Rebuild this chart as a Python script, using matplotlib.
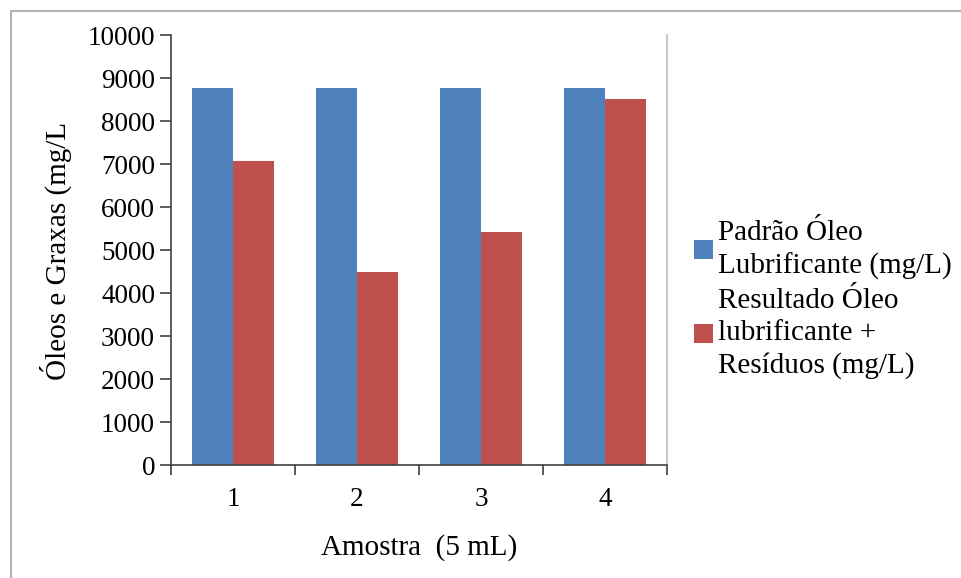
import matplotlib.pyplot as plt
from matplotlib.patches import Rectangle
import numpy as np

plt.rcParams['font.family'] = ['Liberation Serif', 'DejaVu Serif']

# data
amostras = ['1', '2', '3', '4']
padrao = [8780, 8780, 8780, 8780]
resultado = [7080, 4500, 5430, 8530]
serie_labels = ['Padrão Óleo\nLubrificante (mg/L)',
                'Resultado Óleo\nlubrificante +\nResíduos (mg/L)']
y_ticks = list(range(0, 10001, 1000))

W, H = 962, 578
fig = plt.figure(figsize=(W / 100, H / 100), dpi=100)
ax = fig.add_axes([171 / W, 1 - 465.3 / H, (667 - 171) / W, (465.3 - 35.3) / H])

x = np.arange(len(amostras))
w = 1 / 3
ax.bar(x - w / 2, padrao, w, color='#4F81BD', linewidth=0, label=serie_labels[0])
ax.bar(x + w / 2, resultado, w, color='#C0504D', linewidth=0, label=serie_labels[1])

ax.set_xlim(-0.5, len(amostras) - 0.5)
ax.set_ylim(0, 10000)

# category labels without marks, marks between categories
ax.set_xticks(x, amostras)
ax.tick_params(axis='x', which='major', length=0, pad=15.5, labelsize=19.5)
ax.set_xticks(np.arange(-0.5, len(amostras), 1), minor=True)
ax.tick_params(axis='x', which='minor', length=7.5, width=1.2, color='#404040',
               direction='out')
ax.set_yticks(y_ticks)
ax.tick_params(axis='y', length=8, width=1.2, pad=3.5, labelsize=19.5, color='#404040')

ax.spines['top'].set_visible(False)
ax.spines['right'].set_color('#c8c8c8')
ax.spines['right'].set_linewidth(1.5)
for s in ['left', 'bottom']:
    ax.spines[s].set_color('#404040')
    ax.spines[s].set_linewidth(1.2)

fig.text(56 / W, 1 - 251 / H, 'Óleos e Graxas (mg/L', rotation=90,
         ha='center', va='center', fontsize=21)
fig.text(419 / W, 1 - 555 / H, 'Amostra  (5 mL)', ha='center', va='baseline',
         fontsize=21)

leg = ax.legend(loc='upper left', bbox_to_anchor=(694 / W, 1 - 220 / H),
                bbox_transform=fig.transFigure, frameon=False, fontsize=21,
                handlelength=0.65, handleheight=0.63, handletextpad=0.16,
                labelspacing=0.3, borderpad=0, borderaxespad=0)
for t in leg.get_texts():
    t.set_linespacing(1.3)

# outer chart border (cut off at right and bottom in the reference)
fig.patches.append(Rectangle((10.5 / W, -0.05), 1.2, 1 - 11 / H + 0.05,
                             transform=fig.transFigure, fill=False,
                             edgecolor='#b4b4b4', linewidth=1.5))

fig.savefig('out.png', dpi=100)
